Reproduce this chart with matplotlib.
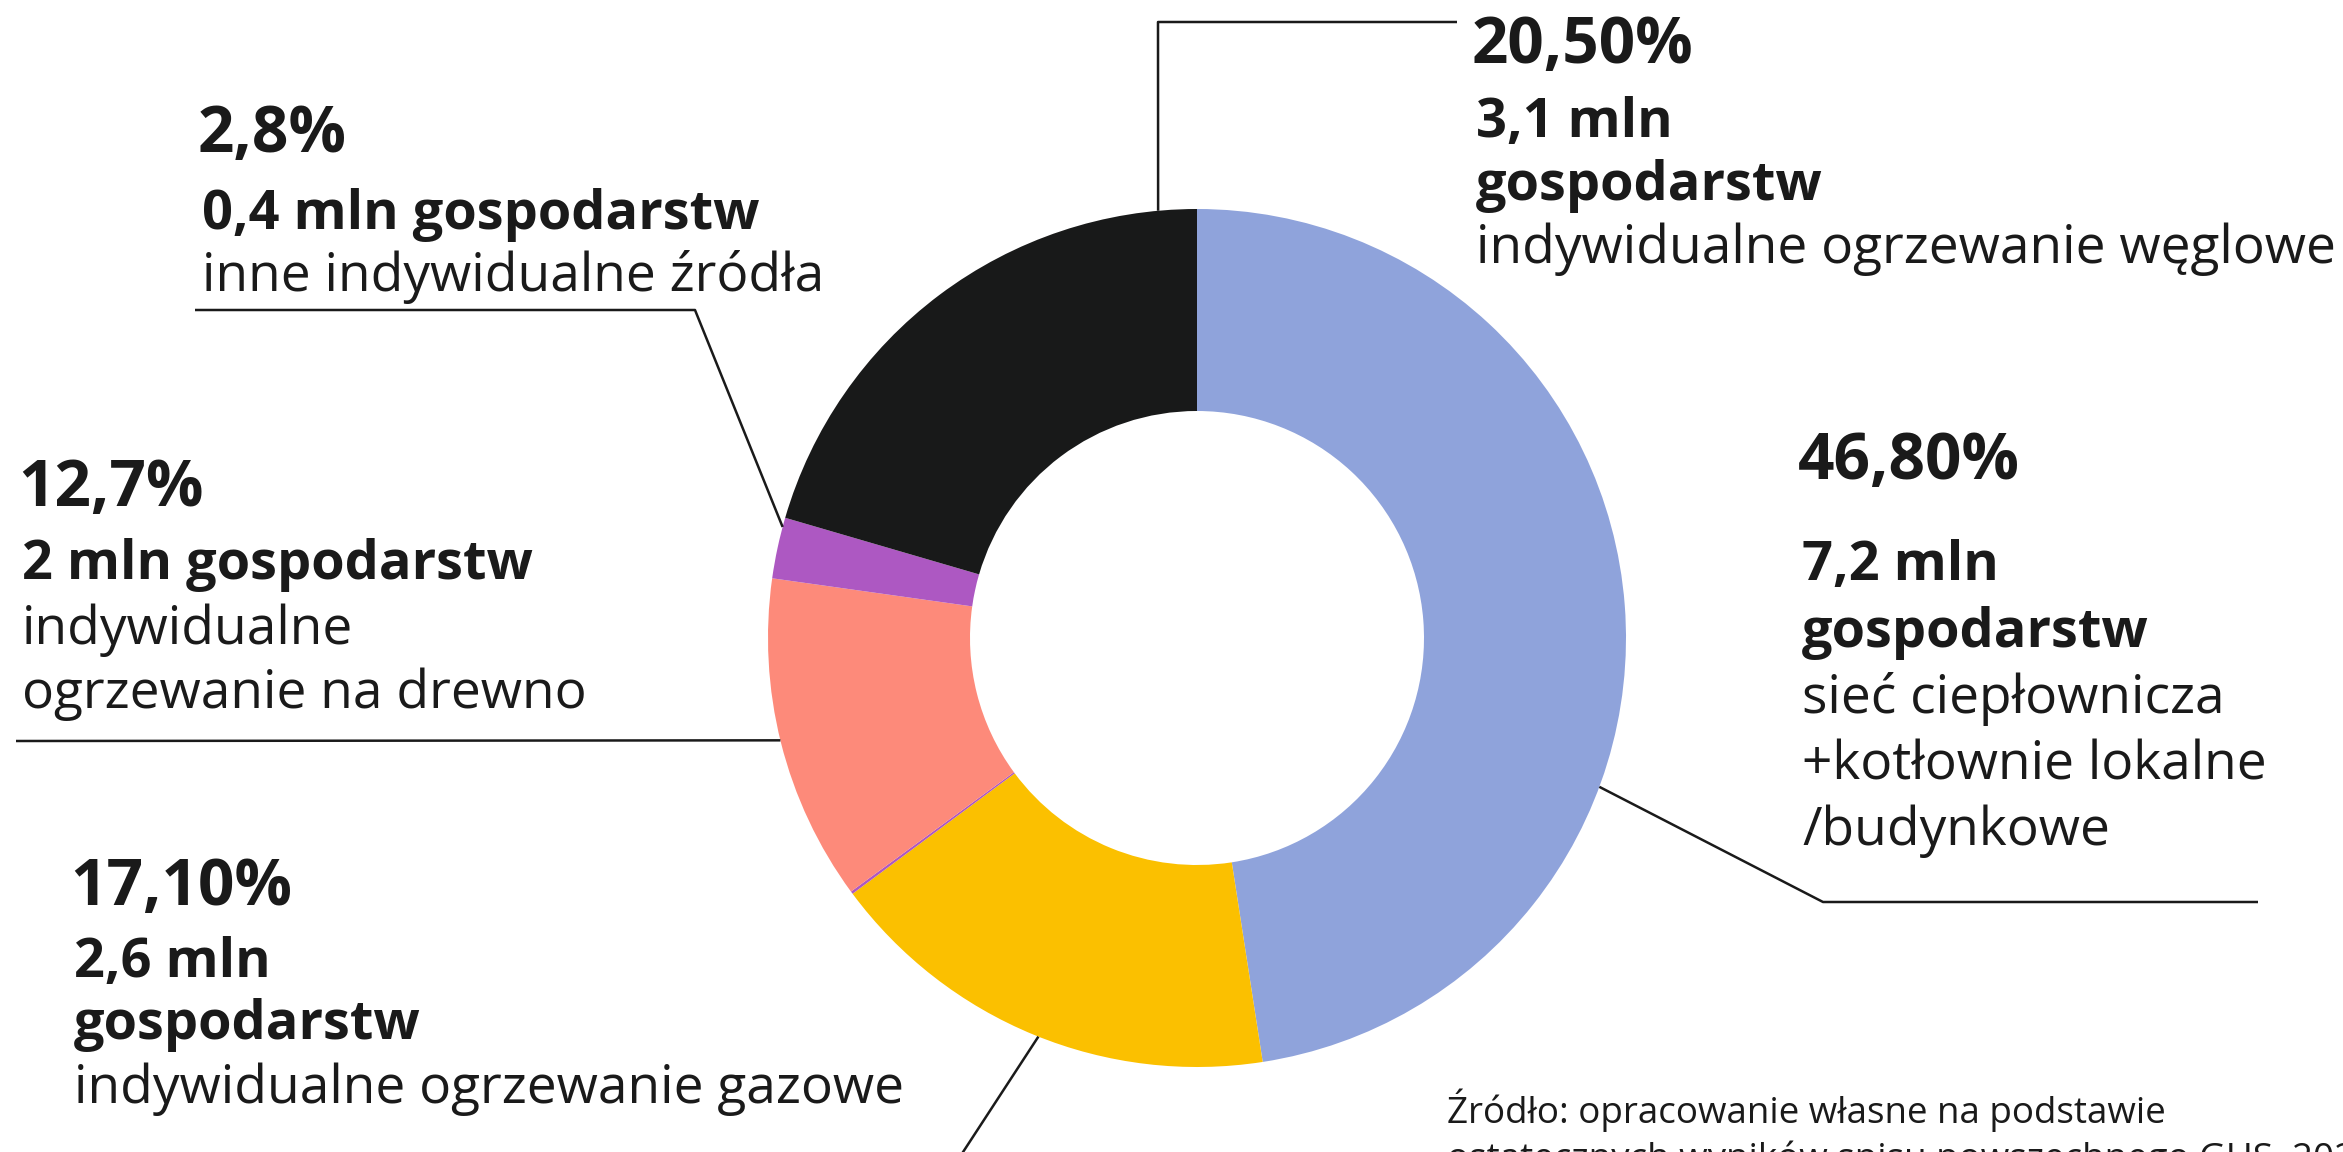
import matplotlib.pyplot as plt
import numpy as np

plt.rcParams['font.family'] = ['Open Sans', 'DejaVu Sans']

# data ##########################################################################
# wedge sizes as drawn (clockwise from 12 o'clock); the tiny one is the thin sliver
shares = [47.6, 17.3, 0.1, 12.3, 2.3, 20.5]
colors = ['#8fa3db', '#fbc000', '#ad58c2', '#fd8a7a', '#ad58c2', '#181919']

pct_labels = ['46,80%', '17,10%', '12,7%', '2,8%', '20,50%']
mln_labels = ['7,2 mln', '2,6 mln', '2 mln', '0,4 mln', '3,1 mln']
unit = 'gospodarstw'
desc_labels = ['sieć ciepłownicza\n+kotłownie lokalne\n/budynkowe',
               'indywidualne ogrzewanie gazowe',
               'indywidualne\nogrzewanie na drewno',
               'inne indywidualne źródła',
               'indywidualne ogrzewanie węglowe']
source = 'Źródło: opracowanie własne na podstawie\nostatecznych wyników spisu powszechnego GUS, 2021'

# figure in pixel units (y measured from the top) #################################
W, H = 2343, 1152
fig = plt.figure(figsize=(W / 100, H / 100), dpi=100)
ax = fig.add_axes([0, 0, 1, 1])

cx, cy, R = 1197, 638, 429
ax.pie(shares, colors=colors, radius=R, center=(cx, H - cy), startangle=90,
       counterclock=False, wedgeprops=dict(width=202, linewidth=0))
ax.set_xlim(0, W)
ax.set_ylim(0, H)
ax.set_aspect('equal')
ax.axis('off')

ink = '#1a1a1a'


def ring(angle):
    # point on the outer edge, angle clockwise from top
    a = np.deg2rad(90 - angle)
    return cx + R * np.cos(a), cy - R * np.sin(a)


# leader lines: anchor angle on ring + elbow points
leaders = [
    (110.3, [(1823, 902), (2258, 902)]),
    (201.7, [(950, 1172)]),
    (256.2, [(16, 741)]),
    (285.0, [(695, 310), (195, 310)]),
    (354.8, [(1158, 22), (1457, 22)]),
]
for ang, pts in leaders:
    x0, y0 = ring(ang)
    xs = [x0] + [p[0] for p in pts]
    ys = [H - y0] + [H - p[1] for p in pts]
    ax.plot(xs, ys, color=ink, lw=1.8, solid_capstyle='butt', clip_on=True)

# text blocks: x, baselines (pct, mln, unit or None, desc first line), line gap of desc
blocks = [
    (1798, 479, 580, 647, 713, 66),
    (70, 905, 977, 1039, 1103, 64),
    (18, 506, 579, None, 644, 64),
    (198, 152, 229, None, 291, 62),
    (1472, 63, 137, 200, 263, 62),
]
for i, (x, b_pct, b_mln, b_unit, b_desc, gap) in enumerate(blocks):
    ax.text(x, H - b_pct, pct_labels[i], fontsize=46, fontweight='bold',
            color=ink, va='baseline', ha='left')
    if b_unit is None:
        ax.text(x + 4, H - b_mln, mln_labels[i] + ' ' + unit, fontsize=39,
                fontweight='bold', color=ink, va='baseline', ha='left')
    else:
        ax.text(x + 4, H - b_mln, mln_labels[i], fontsize=39,
                fontweight='bold', color=ink, va='baseline', ha='left')
        ax.text(x + 4, H - b_unit, unit, fontsize=39,
                fontweight='bold', color=ink, va='baseline', ha='left')
    for j, line in enumerate(desc_labels[i].split('\n')):
        ax.text(x + 4, H - (b_desc + j * gap), line, fontsize=38.3,
                color=ink, va='baseline', ha='left')

# source note, its second line is cropped by the bottom edge as in the original
for j, line in enumerate(source.split('\n')):
    ax.text(1447, H - (1123 + j * 46), line, fontsize=26.5, color=ink,
            va='baseline', ha='left')

fig.savefig('out.png', dpi=100)
